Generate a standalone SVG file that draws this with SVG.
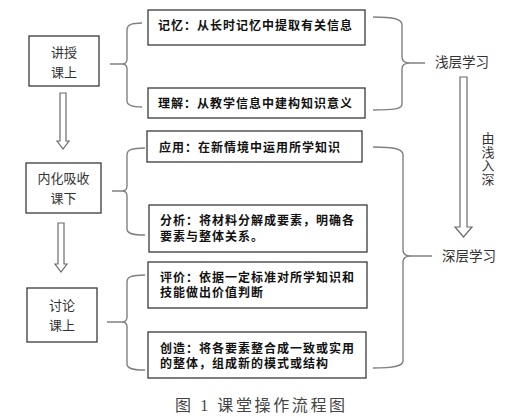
<svg xmlns="http://www.w3.org/2000/svg" width="527" height="417" viewBox="0 0 527 417">
<style>
.box{fill:#fff;stroke:#3a3a3a;stroke-width:1.3}
.br{fill:none;stroke:#808080;stroke-width:1.4}
.arr{fill:#fff;stroke:#6a6a6a;stroke-width:1.2}
.bt{font-family:"Noto Sans CJK SC",sans-serif;font-weight:bold;font-size:12px;letter-spacing:1px;fill:#111}
.nt{font-family:"Noto Sans CJK SC",sans-serif;font-size:13px;fill:#333;text-anchor:middle}
.vt{font-family:"Noto Sans CJK SC",sans-serif;font-size:13px;fill:#333;writing-mode:vertical-rl;letter-spacing:0.5px}
.lt{font-family:"Noto Sans CJK SC",sans-serif;font-size:13.5px;fill:#333}
.cap{font-family:"Liberation Serif","Noto Sans CJK SC",serif;font-size:16px;fill:#444}
</style>
<rect width="527" height="417" fill="#fff"/>
<g id="connectors">
<polygon class="arr" points="60,93 66,93 66,141 69,141 63,149 57,141 60,141"/>
<polygon class="arr" points="58,223 64,223 64,264 67,264 61,272 55,264 58,264"/>
<polygon class="arr" points="460,77 467,77 467,227 472,227 463.5,237 455,227 460,227"/>
<path class="br" d="M110,64 H122 M142,23 C131,23 127,25 127,30 L127,59 Q127,64 122,64 Q127,64 127,69 L127,101 C127,105 131,107 142,107"/>
<path class="br" d="M112,191 H122 M145,148 C131,148 127,150 127,155 L127,186 Q127,191 122,191 Q127,191 127,196 L127,229 C127,233 131,235 145,235"/>
<path class="br" d="M107,322 H122 M145,275 C131,275 127,277 127,282 L127,317 Q127,322 122,322 Q127,322 127,327 L127,364 C127,368 131,370 145,370"/>
<path class="br" d="M373,17 C394,17 402,19 402,25 L402,57 Q402,63 410,63 L425,63 M410,63 Q402,63 402,69 L402,104 C402,109 394,110 373,110"/>
<path class="br" d="M373,147 C395,147 403,149 403,155 L403,250 Q403,256 411,256 L432,256 M411,256 Q403,256 403,262 L403,361 C403,366 395,368 373,368"/>
</g>
<g id="n-lecture">
<rect class="box" x="29" y="36" width="70" height="50"/>
<text class="nt" x="64" y="57">讲授</text>
<text class="nt" x="64" y="77">课上</text>
</g>
<g id="n-internalize">
<rect class="box" x="26" y="163" width="75" height="50"/>
<text class="nt" x="63.5" y="183">内化吸收</text>
<text class="nt" x="63.5" y="203">课下</text>
</g>
<g id="n-discuss">
<rect class="box" x="27" y="288" width="70" height="54"/>
<text class="nt" x="62" y="310">讨论</text>
<text class="nt" x="62" y="330">课上</text>
</g>
<g id="n-remember">
<rect class="box" x="148" y="10" width="217" height="35"/>
<text class="bt" x="158" y="29.5">记忆：从长时记忆中提取有关信息</text>
</g>
<g id="n-understand">
<rect class="box" x="148" y="88" width="217" height="30"/>
<text class="bt" x="158" y="107.5">理解：从教学信息中建构知识意义</text>
</g>
<g id="n-apply">
<rect class="box" x="147" y="131" width="215" height="31"/>
<text class="bt" x="159" y="151.5">应用：在新情境中运用所学知识</text>
</g>
<g id="n-analyze">
<rect class="box" x="149" y="205" width="218" height="47"/>
<text class="bt" x="160" y="224.5">分析：将材料分解成要素，明确各<tspan x="160" dy="16">要素与整体关系。</tspan></text>
</g>
<g id="n-evaluate">
<rect class="box" x="148" y="262" width="219" height="46"/>
<text class="bt" x="160" y="281.5">评价：依据一定标准对所学知识和<tspan x="160" dy="15.5">技能做出价值判断</tspan></text>
</g>
<g id="n-create">
<rect class="box" x="148" y="332" width="218" height="46"/>
<text class="bt" x="160" y="352.5">创造：将各要素整合成一致或实用<tspan x="160" dy="15.5">的整体，组成新的模式或结构</tspan></text>
</g>
<g id="n-shallow">
<text class="lt" x="435" y="67">浅层学习</text>
</g>
<g id="n-deep">
<text class="lt" x="442" y="261">深层学习</text>
</g>
<g id="n-direction">
<text class="vt" x="488" y="132">由浅入深</text>
</g>
<g id="caption">
<text class="cap" x="175" y="411" textLength="170" lengthAdjust="spacing">图 1 课堂操作流程图</text>
</g>
</svg>
